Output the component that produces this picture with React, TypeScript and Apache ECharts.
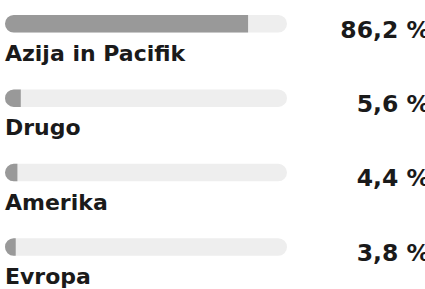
import React, { useEffect, useRef } from "react";
import * as echarts from "echarts";

const categories = ["Azija in Pacifik", "Drugo", "Amerika", "Evropa"];
const values = [86.2, 5.6, 4.4, 3.8];
const fullTrack = [100, 100, 100, 100];

const FONT = "DejaVu Sans";

export default function App() {
  const ref = useRef<HTMLDivElement>(null);
  useEffect(() => {
    const chart = echarts.init(ref.current!, null, { renderer: "svg" });
    chart.setOption({
      animation: false,
      grid: { left: 5, right: 138, top: 23.7, bottom: 42, containLabel: false },
      xAxis: { type: "value", min: 0, max: 100, show: false },
      yAxis: {
        type: "category",
        data: categories,
        inverse: true,
        boundaryGap: false,
        show: false,
      },
      series: [
        {
          type: "bar",
          name: "track",
          data: fullTrack,
          barWidth: 17.5,
          itemStyle: { color: "#eeeeee", borderRadius: 9 },
          label: {
            show: true,
            formatter: (p: any) => categories[p.dataIndex],
            position: [0, 27.4],
            align: "left",
            verticalAlign: "top",
            fontFamily: FONT,
            fontSize: 22,
            fontWeight: 700,
            color: "#1a1a1a",
          },
          silent: true,
        },
        {
          type: "bar",
          name: "value",
          data: values,
          barWidth: 17.5,
          barGap: "-100%",
          itemStyle: { color: "#999999", borderRadius: [9, 0, 0, 9] },
          silent: true,
        },
        {
          type: "bar",
          name: "valueLabel",
          data: fullTrack,
          barWidth: 17.5,
          barGap: "-100%",
          itemStyle: { color: "rgba(0,0,0,0)" },
          label: {
            show: true,
            formatter: (p: any) => values[p.dataIndex].toFixed(1).replace(".", ",") + " %",
            position: [425, 2.6],
            align: "right",
            verticalAlign: "top",
            fontFamily: FONT,
            fontSize: 23.5,
            fontWeight: 700,
            color: "#1a1a1a",
          },
          silent: true,
        },
      ],
    });
    return () => chart.dispose();
  }, []);
  return (
    <div
      ref={ref}
      style={{ position: "fixed", left: 0, top: 0, width: 425, height: 289, background: "#fff" }}
    />
  );
}
